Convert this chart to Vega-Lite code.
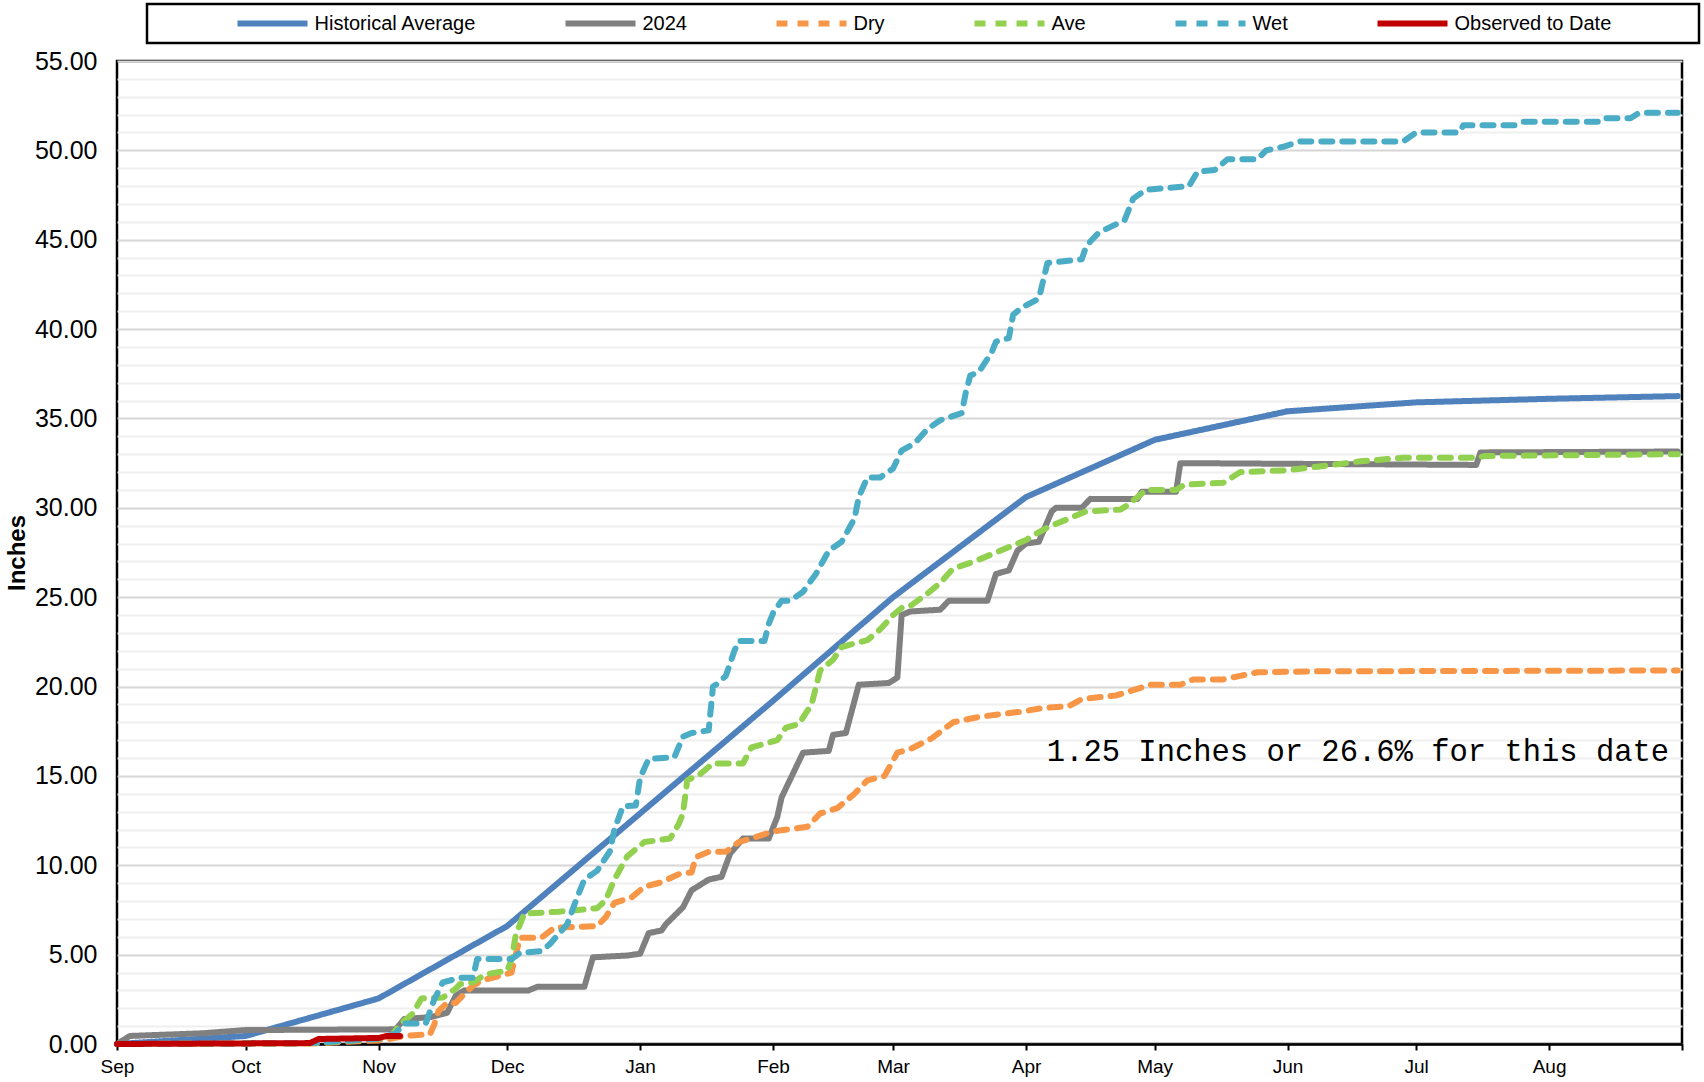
{
  "$schema": "https://vega.github.io/schema/vega-lite/v6.json",
  "width": 1565,
  "height": 983,
  "autosize": {"type": "none"},
  "padding": {"left": 117, "top": 61, "right": 22, "bottom": 38},
  "background": "white",
  "config": {
    "view": {"stroke": "black", "strokeWidth": 2.5},
    "font": "Liberation Sans",
    "legend": {"strokeWidth": 2.5}
  },
  "encoding": {
    "x": {
      "field": "d", "type": "temporal",
      "scale": {"type": "utc", "nice": false, "domain": [{"year": 2024, "month": 9, "date": 1, "utc": true}, {"year": 2025, "month": 9, "date": 1, "utc": true}]},
      "axis": {
        "tickCount": {"interval": "month", "step": 1},
        "labelExpr": "utcyear(datum.value) === 2025 && utcmonth(datum.value) === 8 ? '' : utcFormat(datum.value, '%b')",
        "labelFlush": false, "labelOverlap": false,
        "labelFont": "Liberation Sans", "labelFontSize": 19, "labelColor": "black", "labelPadding": 7,
        "tickColor": "black", "tickWidth": 2, "tickSize": 6,
        "domainColor": "black", "domainWidth": 2.5,
        "grid": false, "title": null
      }
    },
    "y": {
      "field": "v", "type": "quantitative",
      "scale": {"domain": [0, 55], "nice": false},
      "axis": {
        "values": [0,1,2,3,4,5,6,7,8,9,10,11,12,13,14,15,16,17,18,19,20,21,22,23,24,25,26,27,28,29,30,31,32,33,34,35,36,37,38,39,40,41,42,43,44,45,46,47,48,49,50,51,52,53,54,55],
        "labelExpr": "datum.value % 5 === 0 ? format(datum.value, '.2f') : ''",
        "labelOverlap": false,
        "labelFont": "Liberation Sans", "labelFontSize": 25, "labelColor": "black", "labelPadding": 20,
        "ticks": false, "domain": false,
        "grid": true,
        "gridColor": {"condition": {"test": "datum.value % 5 === 0", "value": "#d6d6d6"}, "value": "#efefef"},
        "gridWidth": 2,
        "title": "Inches", "titleFont": "Liberation Sans", "titleFontSize": 24, "titleFontWeight": "bold", "titleColor": "black", "titlePadding": 5
      }
    }
  },
  "layer": [
    {
      "data": {"values": [
        {"s":"Historical Average","d":"2024-09-01","v":0},
        {"s":"Historical Average","d":"2024-10-01","v":0.45},
        {"s":"Historical Average","d":"2024-11-01","v":2.55},
        {"s":"Historical Average","d":"2024-12-01","v":6.6},
        {"s":"Historical Average","d":"2025-01-01","v":12.9},
        {"s":"Historical Average","d":"2025-02-01","v":19.2},
        {"s":"Historical Average","d":"2025-03-01","v":25.0},
        {"s":"Historical Average","d":"2025-04-01","v":30.6},
        {"s":"Historical Average","d":"2025-05-01","v":33.8},
        {"s":"Historical Average","d":"2025-06-01","v":35.4},
        {"s":"Historical Average","d":"2025-07-01","v":35.9},
        {"s":"Historical Average","d":"2025-08-01","v":36.1},
        {"s":"Historical Average","d":"2025-08-31","v":36.25},

        {"s":"2024","d":"2024-09-01","v":0},
        {"s":"2024","d":"2024-09-04","v":0.45},
        {"s":"2024","d":"2024-09-21","v":0.6},
        {"s":"2024","d":"2024-10-01","v":0.78},
        {"s":"2024","d":"2024-11-05","v":0.82},
        {"s":"2024","d":"2024-11-07","v":1.4},
        {"s":"2024","d":"2024-11-13","v":1.5},
        {"s":"2024","d":"2024-11-17","v":1.75},
        {"s":"2024","d":"2024-11-19","v":2.7},
        {"s":"2024","d":"2024-11-21","v":3.0},
        {"s":"2024","d":"2024-12-06","v":3.0},
        {"s":"2024","d":"2024-12-08","v":3.2},
        {"s":"2024","d":"2024-12-19","v":3.2},
        {"s":"2024","d":"2024-12-21","v":4.85},
        {"s":"2024","d":"2024-12-29","v":4.95},
        {"s":"2024","d":"2025-01-01","v":5.05},
        {"s":"2024","d":"2025-01-03","v":6.2},
        {"s":"2024","d":"2025-01-06","v":6.35},
        {"s":"2024","d":"2025-01-07","v":6.7},
        {"s":"2024","d":"2025-01-11","v":7.65},
        {"s":"2024","d":"2025-01-13","v":8.6},
        {"s":"2024","d":"2025-01-17","v":9.2},
        {"s":"2024","d":"2025-01-20","v":9.35},
        {"s":"2024","d":"2025-01-22","v":10.65},
        {"s":"2024","d":"2025-01-25","v":11.5},
        {"s":"2024","d":"2025-01-31","v":11.5},
        {"s":"2024","d":"2025-02-02","v":12.7},
        {"s":"2024","d":"2025-02-03","v":13.8},
        {"s":"2024","d":"2025-02-06","v":15.3},
        {"s":"2024","d":"2025-02-08","v":16.3},
        {"s":"2024","d":"2025-02-14","v":16.4},
        {"s":"2024","d":"2025-02-15","v":17.3},
        {"s":"2024","d":"2025-02-18","v":17.4},
        {"s":"2024","d":"2025-02-20","v":19.2},
        {"s":"2024","d":"2025-02-21","v":20.1},
        {"s":"2024","d":"2025-02-28","v":20.2},
        {"s":"2024","d":"2025-03-02","v":20.5},
        {"s":"2024","d":"2025-03-03","v":24.0},
        {"s":"2024","d":"2025-03-05","v":24.2},
        {"s":"2024","d":"2025-03-12","v":24.3},
        {"s":"2024","d":"2025-03-14","v":24.8},
        {"s":"2024","d":"2025-03-23","v":24.8},
        {"s":"2024","d":"2025-03-25","v":26.3},
        {"s":"2024","d":"2025-03-28","v":26.5},
        {"s":"2024","d":"2025-03-30","v":27.6},
        {"s":"2024","d":"2025-04-01","v":28.0},
        {"s":"2024","d":"2025-04-04","v":28.1},
        {"s":"2024","d":"2025-04-07","v":29.8},
        {"s":"2024","d":"2025-04-08","v":30.0},
        {"s":"2024","d":"2025-04-14","v":30.0},
        {"s":"2024","d":"2025-04-16","v":30.5},
        {"s":"2024","d":"2025-04-27","v":30.5},
        {"s":"2024","d":"2025-04-28","v":30.9},
        {"s":"2024","d":"2025-05-06","v":30.9},
        {"s":"2024","d":"2025-05-07","v":32.5},
        {"s":"2024","d":"2025-07-15","v":32.4},
        {"s":"2024","d":"2025-07-16","v":33.1},
        {"s":"2024","d":"2025-08-31","v":33.15},

        {"s":"Dry","d":"2024-09-01","v":0},
        {"s":"Dry","d":"2024-10-16","v":0.03},
        {"s":"Dry","d":"2024-11-01","v":0.2},
        {"s":"Dry","d":"2024-11-04","v":0.3},
        {"s":"Dry","d":"2024-11-07","v":0.45},
        {"s":"Dry","d":"2024-11-13","v":0.55},
        {"s":"Dry","d":"2024-11-14","v":1.1},
        {"s":"Dry","d":"2024-11-15","v":1.85},
        {"s":"Dry","d":"2024-11-17","v":2.3},
        {"s":"Dry","d":"2024-11-19","v":2.3},
        {"s":"Dry","d":"2024-11-21","v":2.8},
        {"s":"Dry","d":"2024-11-23","v":3.25},
        {"s":"Dry","d":"2024-11-25","v":3.55},
        {"s":"Dry","d":"2024-11-29","v":3.8},
        {"s":"Dry","d":"2024-12-02","v":4.0},
        {"s":"Dry","d":"2024-12-03","v":5.0},
        {"s":"Dry","d":"2024-12-04","v":5.95},
        {"s":"Dry","d":"2024-12-09","v":5.95},
        {"s":"Dry","d":"2024-12-12","v":6.5},
        {"s":"Dry","d":"2024-12-22","v":6.6},
        {"s":"Dry","d":"2024-12-24","v":7.1},
        {"s":"Dry","d":"2024-12-26","v":7.9},
        {"s":"Dry","d":"2024-12-30","v":8.2},
        {"s":"Dry","d":"2025-01-02","v":8.8},
        {"s":"Dry","d":"2025-01-06","v":9.05},
        {"s":"Dry","d":"2025-01-10","v":9.5},
        {"s":"Dry","d":"2025-01-13","v":9.6},
        {"s":"Dry","d":"2025-01-14","v":10.45},
        {"s":"Dry","d":"2025-01-17","v":10.75},
        {"s":"Dry","d":"2025-01-21","v":10.75},
        {"s":"Dry","d":"2025-01-24","v":11.3},
        {"s":"Dry","d":"2025-01-27","v":11.5},
        {"s":"Dry","d":"2025-02-01","v":11.9},
        {"s":"Dry","d":"2025-02-09","v":12.15},
        {"s":"Dry","d":"2025-02-12","v":12.9},
        {"s":"Dry","d":"2025-02-16","v":13.2},
        {"s":"Dry","d":"2025-02-20","v":14.0},
        {"s":"Dry","d":"2025-02-23","v":14.75},
        {"s":"Dry","d":"2025-02-27","v":15.0},
        {"s":"Dry","d":"2025-03-02","v":16.3},
        {"s":"Dry","d":"2025-03-05","v":16.5},
        {"s":"Dry","d":"2025-03-10","v":17.1},
        {"s":"Dry","d":"2025-03-15","v":18.0},
        {"s":"Dry","d":"2025-03-21","v":18.3},
        {"s":"Dry","d":"2025-03-31","v":18.6},
        {"s":"Dry","d":"2025-04-05","v":18.8},
        {"s":"Dry","d":"2025-04-11","v":18.9},
        {"s":"Dry","d":"2025-04-14","v":19.3},
        {"s":"Dry","d":"2025-04-22","v":19.5},
        {"s":"Dry","d":"2025-04-30","v":20.1},
        {"s":"Dry","d":"2025-05-07","v":20.1},
        {"s":"Dry","d":"2025-05-10","v":20.4},
        {"s":"Dry","d":"2025-05-17","v":20.4},
        {"s":"Dry","d":"2025-05-21","v":20.6},
        {"s":"Dry","d":"2025-05-25","v":20.8},
        {"s":"Dry","d":"2025-06-08","v":20.85},
        {"s":"Dry","d":"2025-08-31","v":20.9},

        {"s":"Ave","d":"2024-09-01","v":0},
        {"s":"Ave","d":"2024-10-16","v":0.04},
        {"s":"Ave","d":"2024-11-01","v":0.3},
        {"s":"Ave","d":"2024-11-04","v":0.45},
        {"s":"Ave","d":"2024-11-06","v":1.1},
        {"s":"Ave","d":"2024-11-09","v":1.7},
        {"s":"Ave","d":"2024-11-11","v":2.55},
        {"s":"Ave","d":"2024-11-16","v":2.6},
        {"s":"Ave","d":"2024-11-19","v":3.1},
        {"s":"Ave","d":"2024-11-20","v":3.35},
        {"s":"Ave","d":"2024-11-23","v":3.45},
        {"s":"Ave","d":"2024-11-26","v":3.9},
        {"s":"Ave","d":"2024-12-01","v":4.1},
        {"s":"Ave","d":"2024-12-02","v":4.7},
        {"s":"Ave","d":"2024-12-03","v":6.1},
        {"s":"Ave","d":"2024-12-05","v":7.3},
        {"s":"Ave","d":"2024-12-13","v":7.4},
        {"s":"Ave","d":"2024-12-22","v":7.6},
        {"s":"Ave","d":"2024-12-24","v":8.05},
        {"s":"Ave","d":"2024-12-26","v":9.2},
        {"s":"Ave","d":"2024-12-29","v":10.5},
        {"s":"Ave","d":"2025-01-02","v":11.3},
        {"s":"Ave","d":"2025-01-08","v":11.5},
        {"s":"Ave","d":"2025-01-10","v":12.3},
        {"s":"Ave","d":"2025-01-11","v":12.9},
        {"s":"Ave","d":"2025-01-12","v":14.75},
        {"s":"Ave","d":"2025-01-15","v":15.1},
        {"s":"Ave","d":"2025-01-18","v":15.7},
        {"s":"Ave","d":"2025-01-25","v":15.7},
        {"s":"Ave","d":"2025-01-27","v":16.6},
        {"s":"Ave","d":"2025-02-02","v":17.0},
        {"s":"Ave","d":"2025-02-04","v":17.7},
        {"s":"Ave","d":"2025-02-07","v":17.9},
        {"s":"Ave","d":"2025-02-10","v":19.0},
        {"s":"Ave","d":"2025-02-12","v":20.9},
        {"s":"Ave","d":"2025-02-15","v":21.5},
        {"s":"Ave","d":"2025-02-17","v":22.2},
        {"s":"Ave","d":"2025-02-19","v":22.35},
        {"s":"Ave","d":"2025-02-23","v":22.6},
        {"s":"Ave","d":"2025-02-26","v":23.2},
        {"s":"Ave","d":"2025-03-01","v":24.0},
        {"s":"Ave","d":"2025-03-03","v":24.4},
        {"s":"Ave","d":"2025-03-05","v":24.5},
        {"s":"Ave","d":"2025-03-09","v":25.2},
        {"s":"Ave","d":"2025-03-12","v":25.8},
        {"s":"Ave","d":"2025-03-15","v":26.6},
        {"s":"Ave","d":"2025-03-20","v":27.0},
        {"s":"Ave","d":"2025-03-24","v":27.4},
        {"s":"Ave","d":"2025-03-29","v":27.9},
        {"s":"Ave","d":"2025-04-01","v":28.2},
        {"s":"Ave","d":"2025-04-03","v":28.5},
        {"s":"Ave","d":"2025-04-06","v":28.9},
        {"s":"Ave","d":"2025-04-09","v":29.2},
        {"s":"Ave","d":"2025-04-15","v":29.8},
        {"s":"Ave","d":"2025-04-23","v":29.9},
        {"s":"Ave","d":"2025-04-25","v":30.2},
        {"s":"Ave","d":"2025-04-27","v":30.6},
        {"s":"Ave","d":"2025-04-29","v":31.0},
        {"s":"Ave","d":"2025-05-06","v":31.0},
        {"s":"Ave","d":"2025-05-08","v":31.3},
        {"s":"Ave","d":"2025-05-17","v":31.4},
        {"s":"Ave","d":"2025-05-21","v":32.0},
        {"s":"Ave","d":"2025-06-01","v":32.1},
        {"s":"Ave","d":"2025-06-08","v":32.3},
        {"s":"Ave","d":"2025-06-18","v":32.6},
        {"s":"Ave","d":"2025-06-28","v":32.8},
        {"s":"Ave","d":"2025-07-15","v":32.8},
        {"s":"Ave","d":"2025-07-17","v":32.9},
        {"s":"Ave","d":"2025-08-31","v":33.0},

        {"s":"Wet","d":"2024-09-01","v":0},
        {"s":"Wet","d":"2024-10-16","v":0.05},
        {"s":"Wet","d":"2024-11-01","v":0.3},
        {"s":"Wet","d":"2024-11-05","v":0.6},
        {"s":"Wet","d":"2024-11-07","v":1.15},
        {"s":"Wet","d":"2024-11-12","v":1.15},
        {"s":"Wet","d":"2024-11-14","v":2.5},
        {"s":"Wet","d":"2024-11-16","v":3.45},
        {"s":"Wet","d":"2024-11-20","v":3.7},
        {"s":"Wet","d":"2024-11-23","v":3.7},
        {"s":"Wet","d":"2024-11-24","v":4.75},
        {"s":"Wet","d":"2024-12-02","v":4.75},
        {"s":"Wet","d":"2024-12-04","v":5.1},
        {"s":"Wet","d":"2024-12-09","v":5.2},
        {"s":"Wet","d":"2024-12-11","v":5.6},
        {"s":"Wet","d":"2024-12-15","v":6.7},
        {"s":"Wet","d":"2024-12-17","v":8.0},
        {"s":"Wet","d":"2024-12-19","v":9.2},
        {"s":"Wet","d":"2024-12-22","v":9.7},
        {"s":"Wet","d":"2024-12-25","v":10.8},
        {"s":"Wet","d":"2024-12-26","v":12.0},
        {"s":"Wet","d":"2024-12-28","v":13.3},
        {"s":"Wet","d":"2024-12-31","v":13.35},
        {"s":"Wet","d":"2025-01-01","v":14.9},
        {"s":"Wet","d":"2025-01-03","v":15.95},
        {"s":"Wet","d":"2025-01-09","v":16.05},
        {"s":"Wet","d":"2025-01-11","v":17.2},
        {"s":"Wet","d":"2025-01-13","v":17.4},
        {"s":"Wet","d":"2025-01-17","v":17.55},
        {"s":"Wet","d":"2025-01-18","v":20.0},
        {"s":"Wet","d":"2025-01-19","v":20.15},
        {"s":"Wet","d":"2025-01-21","v":20.6},
        {"s":"Wet","d":"2025-01-23","v":22.0},
        {"s":"Wet","d":"2025-01-24","v":22.55},
        {"s":"Wet","d":"2025-01-30","v":22.55},
        {"s":"Wet","d":"2025-01-31","v":23.5},
        {"s":"Wet","d":"2025-02-01","v":24.1},
        {"s":"Wet","d":"2025-02-03","v":24.8},
        {"s":"Wet","d":"2025-02-05","v":24.8},
        {"s":"Wet","d":"2025-02-08","v":25.3},
        {"s":"Wet","d":"2025-02-11","v":26.3},
        {"s":"Wet","d":"2025-02-14","v":27.6},
        {"s":"Wet","d":"2025-02-17","v":28.1},
        {"s":"Wet","d":"2025-02-20","v":29.4},
        {"s":"Wet","d":"2025-02-21","v":30.6},
        {"s":"Wet","d":"2025-02-23","v":31.7},
        {"s":"Wet","d":"2025-02-26","v":31.7},
        {"s":"Wet","d":"2025-03-01","v":32.2},
        {"s":"Wet","d":"2025-03-03","v":33.2},
        {"s":"Wet","d":"2025-03-06","v":33.6},
        {"s":"Wet","d":"2025-03-09","v":34.4},
        {"s":"Wet","d":"2025-03-12","v":34.9},
        {"s":"Wet","d":"2025-03-17","v":35.3},
        {"s":"Wet","d":"2025-03-18","v":36.5},
        {"s":"Wet","d":"2025-03-19","v":37.4},
        {"s":"Wet","d":"2025-03-21","v":37.6},
        {"s":"Wet","d":"2025-03-24","v":38.7},
        {"s":"Wet","d":"2025-03-25","v":39.3},
        {"s":"Wet","d":"2025-03-28","v":39.5},
        {"s":"Wet","d":"2025-03-29","v":40.8},
        {"s":"Wet","d":"2025-03-31","v":41.2},
        {"s":"Wet","d":"2025-04-04","v":41.7},
        {"s":"Wet","d":"2025-04-05","v":42.7},
        {"s":"Wet","d":"2025-04-06","v":43.7},
        {"s":"Wet","d":"2025-04-14","v":43.9},
        {"s":"Wet","d":"2025-04-15","v":44.6},
        {"s":"Wet","d":"2025-04-16","v":44.9},
        {"s":"Wet","d":"2025-04-18","v":45.4},
        {"s":"Wet","d":"2025-04-24","v":46.1},
        {"s":"Wet","d":"2025-04-26","v":47.3},
        {"s":"Wet","d":"2025-04-29","v":47.8},
        {"s":"Wet","d":"2025-05-09","v":48.0},
        {"s":"Wet","d":"2025-05-11","v":48.8},
        {"s":"Wet","d":"2025-05-15","v":48.9},
        {"s":"Wet","d":"2025-05-18","v":49.5},
        {"s":"Wet","d":"2025-05-25","v":49.5},
        {"s":"Wet","d":"2025-05-27","v":50.0},
        {"s":"Wet","d":"2025-05-31","v":50.2},
        {"s":"Wet","d":"2025-06-04","v":50.5},
        {"s":"Wet","d":"2025-06-28","v":50.5},
        {"s":"Wet","d":"2025-07-01","v":51.0},
        {"s":"Wet","d":"2025-07-11","v":51.0},
        {"s":"Wet","d":"2025-07-12","v":51.4},
        {"s":"Wet","d":"2025-07-24","v":51.4},
        {"s":"Wet","d":"2025-07-26","v":51.6},
        {"s":"Wet","d":"2025-08-13","v":51.6},
        {"s":"Wet","d":"2025-08-14","v":51.8},
        {"s":"Wet","d":"2025-08-20","v":51.8},
        {"s":"Wet","d":"2025-08-22","v":52.1},
        {"s":"Wet","d":"2025-08-31","v":52.1},

        {"s":"Observed to Date","d":"2024-09-01","v":0},
        {"s":"Observed to Date","d":"2024-10-16","v":0.05},
        {"s":"Observed to Date","d":"2024-10-18","v":0.28},
        {"s":"Observed to Date","d":"2024-11-01","v":0.34},
        {"s":"Observed to Date","d":"2024-11-03","v":0.45},
        {"s":"Observed to Date","d":"2024-11-06","v":0.45}
      ]},
      "mark": {"type": "line", "strokeCap": "round", "strokeJoin": "round"},
      "encoding": {
        "color": {
          "field": "s", "type": "nominal",
          "scale": {"domain": ["Historical Average", "2024", "Dry", "Ave", "Wet", "Observed to Date"], "range": ["#4F81BD", "#808080", "#F79646", "#92D050", "#4BACC6", "#C00000"]},
          "legend": {"orient": "none", "legendX": 30, "legendY": -57, "direction": "horizontal", "columns": 6, "columnPadding": 86, "symbolType": "stroke", "symbolSize": 4900, "clipHeight": 20, "labelFont": "Liberation Sans", "labelFontSize": 20, "labelColor": "black", "labelLimit": 400, "labelOffset": 4, "padding": 9.5, "strokeColor": "black", "title": "\u00a0", "titleOrient": "left", "titlePadding": 78, "labelExpr": "datum.label === 'Observed to Date' ? datum.label + '\u00a0\u00a0\u00a0\u00a0\u00a0\u00a0\u00a0\u00a0\u00a0\u00a0\u00a0\u00a0\u00a0\u00a0\u200b' : datum.label"}
        },
        "strokeDash": {
          "field": "s", "type": "nominal",
          "scale": {"domain": ["Historical Average", "2024", "Dry", "Ave", "Wet", "Observed to Date"], "range": [[1, 0], [1, 0], [11, 10], [11, 10], [11, 10], [1, 0]]},
          "legend": {"orient": "none", "legendX": 30, "legendY": -57, "direction": "horizontal", "columns": 6, "columnPadding": 86, "symbolType": "stroke", "symbolSize": 4900, "clipHeight": 20, "labelFont": "Liberation Sans", "labelFontSize": 20, "labelColor": "black", "labelLimit": 400, "labelOffset": 4, "padding": 9.5, "strokeColor": "black", "title": "\u00a0", "titleOrient": "left", "titlePadding": 78, "labelExpr": "datum.label === 'Observed to Date' ? datum.label + '\u00a0\u00a0\u00a0\u00a0\u00a0\u00a0\u00a0\u00a0\u00a0\u00a0\u00a0\u00a0\u00a0\u00a0\u200b' : datum.label"}
        },
        "strokeWidth": {
          "field": "s", "type": "nominal",
          "scale": {"domain": ["Historical Average", "2024", "Dry", "Ave", "Wet", "Observed to Date"], "range": [6, 6, 4.5, 4.5, 4.5, 6]},
          "legend": {"orient": "none", "legendX": 30, "legendY": -57, "direction": "horizontal", "columns": 6, "columnPadding": 86, "symbolType": "stroke", "symbolSize": 4900, "clipHeight": 20, "labelFont": "Liberation Sans", "labelFontSize": 20, "labelColor": "black", "labelLimit": 400, "labelOffset": 4, "padding": 9.5, "strokeColor": "black", "title": "\u00a0", "titleOrient": "left", "titlePadding": 78, "labelExpr": "datum.label === 'Observed to Date' ? datum.label + '\u00a0\u00a0\u00a0\u00a0\u00a0\u00a0\u00a0\u00a0\u00a0\u00a0\u00a0\u00a0\u00a0\u00a0\u200b' : datum.label"}
        }
      }
    },
    {
      "data": {"values": [{"label": "1.25 Inches or 26.6% for this date", "d": "2025-08-29", "v": 16.33}]},
      "mark": {"type": "text", "align": "right", "baseline": "middle", "font": "Liberation Mono", "fontSize": 30.5, "color": "black"},
      "encoding": {
        "text": {"field": "label"}
      }
    }
  ]
}
